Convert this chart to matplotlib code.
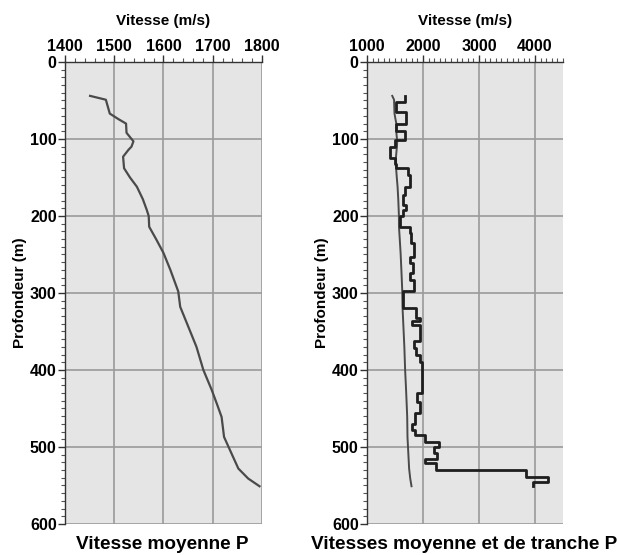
import numpy as np
import matplotlib.pyplot as plt
from matplotlib.ticker import MultipleLocator

# average P velocity vs depth
depth_avg = [44, 49, 58, 67, 74, 80, 92, 103, 110, 114, 123, 138, 150, 162, 178, 192, 200, 214,
             230, 248, 270, 298, 318, 340, 370, 400, 426, 445, 461, 487, 504, 528, 541, 551]
v_avg = [1451, 1483, 1487, 1491, 1508, 1524, 1525, 1539, 1535, 1529, 1518, 1520, 1532, 1546,
         1558, 1566, 1570, 1571, 1585, 1600, 1614, 1630, 1634, 1648, 1667, 1681, 1698, 1709,
         1718, 1723, 1735, 1752, 1772, 1795]

# interval velocities (layer tops, last value = bottom of last layer)
layer_tops = [44, 51.5, 65, 80, 90, 101, 110, 125, 132, 138, 147, 162, 173, 186, 192,
              200, 214, 222, 235, 253, 261, 274, 283, 298, 320, 333, 337, 342, 363, 372,
              380, 390, 430, 441, 456, 470, 478, 484, 493, 500, 508, 515, 521, 530, 539,
              546, 551]
v_int = [1673, 1525, 1691, 1525, 1673, 1494, 1405, 1494, 1525, 1732, 1762, 1673, 1643, 1702, 1643,
         1584, 1762, 1792, 1840, 1762, 1822, 1762, 1840, 1643, 1882, 1941, 1804, 1953, 1840, 1882,
         1941, 1985, 1900, 1941, 1852, 1804, 1864, 2030, 2280, 2197, 2256, 2030, 2227, 3834, 4232,
         3964]

# step outline: vertical segment per layer, joined by horizontal jumps
step_v = np.repeat(v_int, 2)
step_d = np.column_stack([layer_tops[:-1], layer_tops[1:]]).ravel()

plt.rcParams['font.family'] = ['Liberation Sans', 'DejaVu Sans']
plt.rcParams['font.weight'] = 'bold'

fig = plt.figure(figsize=(6.17, 5.55), dpi=100)
ax1 = fig.add_axes([0.1053, 0.0559, 0.3193, 0.8324])
ax2 = fig.add_axes([0.5948, 0.0559, 0.3177, 0.8324])


def style(ax, xlim, xmajor, xminor):
    ax.set_facecolor('#e5e5e5')
    ax.set_xlim(*xlim)
    ax.set_ylim(600, 0)
    ax.xaxis.set_major_locator(MultipleLocator(xmajor))
    ax.xaxis.set_minor_locator(MultipleLocator(xminor))
    ax.yaxis.set_major_locator(MultipleLocator(100))
    ax.yaxis.set_minor_locator(MultipleLocator(10))
    ax.xaxis.tick_top()
    ax.xaxis.set_label_position('top')
    ax.grid(True, which='major', color='#9a9a9a', linewidth=1.2)
    ax.set_axisbelow(True)
    for s in ['right', 'bottom']:
        ax.spines[s].set_visible(False)
    for s in ['left', 'top']:
        ax.spines[s].set_color('#333333')
        ax.spines[s].set_linewidth(1.0)
    ax.tick_params(which='major', length=5, width=1, color='#333333', labelsize=11.5, pad=1)
    ax.tick_params(which='minor', length=3, width=0.8, color='#555555')
    for lab in ax.get_xticklabels() + ax.get_yticklabels():
        lab.set_fontweight('bold')
    ax.set_xlabel('Vitesse (m/s)', fontsize=11, fontweight='bold', labelpad=10)
    ax.set_ylabel('Profondeur (m)', fontsize=11, fontweight='bold', labelpad=2)


style(ax1, (1400, 1800), 100, 20)
style(ax2, (1000, 4500), 1000, 100)
ax2.set_xticks([1000, 2000, 3000, 4000])

ax1.plot(v_avg, depth_avg, color='#4a4a4a', linewidth=1.6)
ax2.plot(v_avg, depth_avg, color='#4a4a4a', linewidth=1.4)
ax2.plot(step_v, step_d, color='#1e1e1e', linewidth=2.0)

fig.text(0.263, 0.003, 'Vitesse moyenne P', ha='center', va='bottom', fontsize=13.7, fontweight='bold')
fig.text(0.752, 0.003, 'Vitesses moyenne et de tranche P', ha='center', va='bottom', fontsize=13.7, fontweight='bold')

fig.savefig('out.png', dpi=100)
